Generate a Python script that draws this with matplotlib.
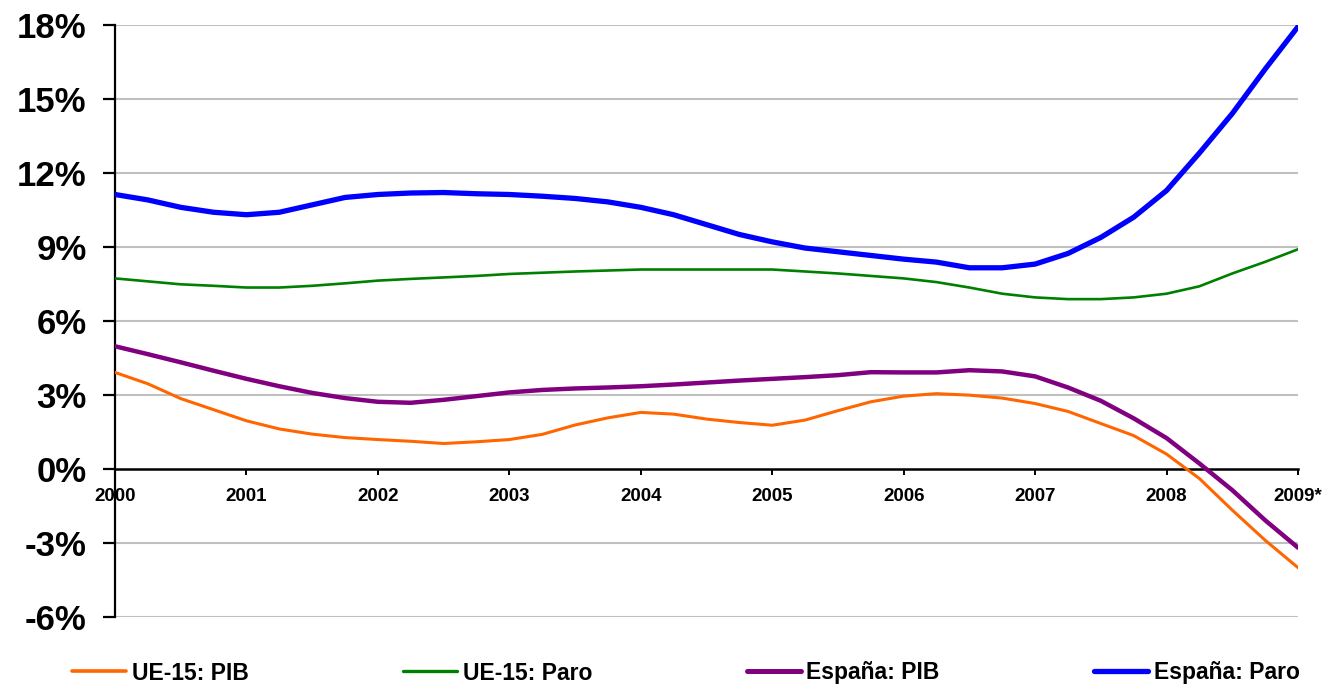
import numpy as np
import matplotlib
matplotlib.use("Agg")
import matplotlib.pyplot as plt

plt.rcParams['font.family'] = ['Liberation Sans', 'DejaVu Sans']
plt.rcParams['font.weight'] = 'bold'

# Quarterly observations 2000Q1 .. 2009Q1 (in %)
quarters = np.arange(2000, 2009.001, 0.25)

ue15_pib = [3.91, 3.45, 2.85, 2.40, 1.95, 1.62, 1.41, 1.27, 1.19, 1.12, 1.03, 1.10,
            1.19, 1.40, 1.78, 2.07, 2.29, 2.22, 2.02, 1.88, 1.77, 1.98, 2.36, 2.72,
            2.95, 3.05, 2.99, 2.87, 2.65, 2.33, 1.84, 1.35, 0.60, -0.39, -1.67, -2.89, -4.00]
ue15_paro = [7.72, 7.60, 7.48, 7.42, 7.35, 7.35, 7.42, 7.52, 7.63, 7.70, 7.76, 7.82,
             7.90, 7.95, 8.00, 8.04, 8.08, 8.08, 8.08, 8.08, 8.08, 8.00, 7.92, 7.82,
             7.72, 7.57, 7.35, 7.10, 6.95, 6.88, 6.88, 6.95, 7.10, 7.40, 7.92, 8.39, 8.90]
espana_pib = [4.97, 4.65, 4.32, 3.98, 3.65, 3.35, 3.08, 2.87, 2.72, 2.68, 2.80, 2.95,
              3.10, 3.20, 3.26, 3.30, 3.35, 3.42, 3.50, 3.58, 3.65, 3.72, 3.80, 3.92,
              3.91, 3.91, 4.00, 3.95, 3.75, 3.30, 2.76, 2.05, 1.25, 0.22, -0.86, -2.08, -3.19]
espana_paro = [11.12, 10.90, 10.60, 10.40, 10.30, 10.40, 10.70, 11.00, 11.12, 11.18, 11.20, 11.15,
               11.12, 11.05, 10.96, 10.82, 10.60, 10.30, 9.90, 9.50, 9.20, 8.95, 8.80, 8.65,
               8.50, 8.38, 8.15, 8.15, 8.30, 8.73, 9.38, 10.20, 11.28, 12.80, 14.40, 16.20, 17.92]

series_labels = ['UE-15: PIB', 'UE-15: Paro', 'España: PIB', 'España: Paro']
year_ticks = [2000, 2001, 2002, 2003, 2004, 2005, 2006, 2007, 2008, 2009]
year_labels = ['2000', '2001', '2002', '2003', '2004', '2005', '2006', '2007', '2008', '2009*']
y_ticks = [-6, -3, 0, 3, 6, 9, 12, 15, 18]

W, H = 1328, 686
fig = plt.figure(figsize=(W / 100, H / 100), dpi=100)
ax = fig.add_axes([115 / W, 1 - 617 / H, (1298 - 115) / W, (617 - 24.7) / H])

for s in ['top', 'right']:
    ax.spines[s].set_visible(False)
ax.spines['bottom'].set_position(('data', 0))
ax.spines['bottom'].set_linewidth(1.8)
ax.spines['left'].set_linewidth(1.6)
ax.spines['bottom'].set_zorder(2)

colors = ['#FF6600', '#008000', '#800080', '#0000FF']
widths = [2.2, 1.9, 3.2, 3.8]
legend_widths = [2.6, 2.4, 3.6, 3.8]
data = [ue15_pib, ue15_paro, espana_pib, espana_paro]
for vals, c, lw in zip(data, colors, widths):
    ax.plot(quarters, vals, color=c, lw=lw,
            solid_joinstyle='round', solid_capstyle='round', zorder=3)

ax.set_xlim(2000, 2009)
ax.set_ylim(-6, 18)
ax.set_yticks(y_ticks)
ax.set_yticklabels([f'{v}%' for v in y_ticks])
ax.set_xticks(year_ticks)
ax.set_xticklabels(year_labels)
ax.tick_params(axis='y', direction='out', length=8.5, width=1.6, pad=12, labelsize=25)
ax.tick_params(axis='x', direction='out', length=4.5, width=1.4, pad=9, labelsize=13.5)
for t in ax.get_xticklabels() + ax.get_yticklabels():
    t.set_fontweight('bold')

for v in y_ticks:
    if v != 0:
        ax.axhline(v, color='#C0C0C0', lw=1.5, zorder=1)

handles = [plt.Line2D([], [], color=c, lw=lw, solid_capstyle='round')
           for c, lw in zip(colors, legend_widths)]
fig.legend(handles=handles, labels=series_labels, loc='center left',
           bbox_to_anchor=(72 / W, 1 - 673 / H),
           ncol=4, frameon=False, handlelength=2.35, handletextpad=0.25,
           columnspacing=6.75, borderaxespad=0, borderpad=0,
           prop={'weight': 'bold', 'size': 16.5})

fig.savefig('out.png', dpi=100)
